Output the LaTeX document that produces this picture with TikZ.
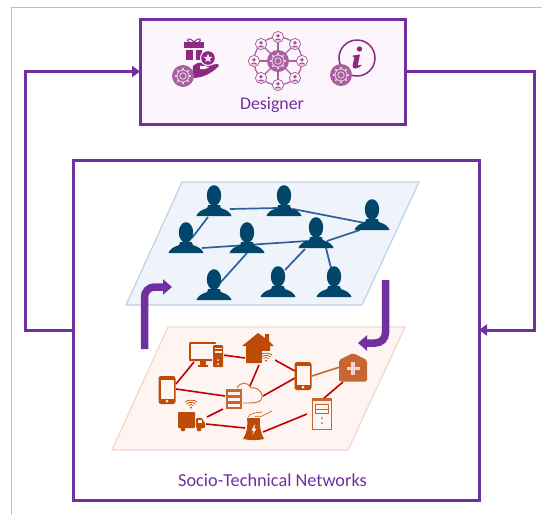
\documentclass[tikz,border=0pt]{standalone}
\usepackage{fontspec}
\setmainfont{Carlito}
\usetikzlibrary{arrows.meta}
\definecolor{pur}{HTML}{7030A0}
\definecolor{desbg}{HTML}{FCF5FC}
\definecolor{plum}{HTML}{8C2A82}
\definecolor{gearbg}{HTML}{A9609F}
\definecolor{gearfg}{HTML}{E9D2E6}
\definecolor{navy}{HTML}{03466B}
\definecolor{bluefill}{HTML}{EFF4FB}
\definecolor{blueline}{HTML}{BDD2E6}
\definecolor{blueedge}{HTML}{2F5F9B}
\definecolor{redfill}{HTML}{FEF5F2}
\definecolor{redline}{HTML}{F7D5CE}
\definecolor{rededge}{HTML}{C00000}
\definecolor{dev}{HTML}{BD4B05}
\definecolor{devlight}{HTML}{C7662E}
\tikzset{
  x=1pt,y=-1pt,
  mainbox/.style={draw=pur,line width=3pt,inner sep=0pt,outer sep=0pt},
  loopline/.style={draw=pur,line width=3pt,line join=miter,-{Triangle[length=8pt,width=11pt]}},
  bigarrow/.style={draw=pur,line width=7.5pt,rounded corners=10pt,-{Triangle[length=9pt,width=15pt]}},
  label/.style={text=pur,inner sep=0pt},
  anchorpt/.style={inner sep=0pt,minimum size=0pt},
  socedge/.style={draw=blueedge,line width=1.7pt},
  techedge/.style={draw=rededge,line width=1.6pt},
  person/.pic={
    \fill[navy] (-17.5,0) .. controls (-16.5,-3.5) and (-13,-6) .. (-8,-7.5)
      .. controls (-6.5,-8) and (-6,-9) .. (-6,-11) -- (6,-11)
      .. controls (6,-9) and (6.5,-8) .. (8,-7.5)
      .. controls (13,-6) and (16.5,-3.5) .. (17.5,0) -- cycle;
    \fill[navy] (0,-20.5) ellipse [x radius=7.2,y radius=10.3];
  },
  wifi/.pic={
    \fill[dev] (0,2.5) circle (1);
    \draw[dev,line width=.7pt] (-2.5,0.5) .. controls (-1,-.8) and (1,-.8) .. (2.5,0.5);
    \draw[dev,line width=.7pt] (-4.5,-1) .. controls (-2,-3.2) and (2,-3.2) .. (4.5,-1);
    \draw[dev,line width=.7pt] (-6,-3) .. controls (-3,-5.5) and (3,-5.5) .. (6,-3);
  },
  phone/.pic={
    \fill[dev,rounded corners=2.5pt] (-8.5,-14) rectangle (8.5,14);
    \fill[redfill] (-6.5,-10) rectangle (6.5,8.5);
    \fill[redfill] (0,11.2) circle (1.5);
  },
  desktop/.pic={
    \fill[dev,rounded corners=1pt] (-17,-12) rectangle (10,7);
    \fill[redfill] (-15,-10.5) rectangle (8,5);
    \fill[dev] (-6,7) rectangle (0,11);
    \fill[dev] (-8,11) rectangle (2,13);
    \fill[redfill] (6,-10) rectangle (18,14);
    \fill[dev,rounded corners=1pt] (7,-9) rectangle (17,13);
    \fill[redfill] (8.5,-6.5) rectangle (15.5,-5);
    \fill[redfill] (8.5,-3) rectangle (15.5,-1.5);
    \fill[redfill] (12,6) circle (1);
    \fill[redfill] (12,10) circle (1);
  },
  house/.pic={
    \fill[dev] (0,-15) -- (7,-10) -- (7,-14) -- (11,-14) -- (11,-7) -- (16,-2) -- (12,-2)
      -- (12,15) -- (-12,15) -- (-12,-2) -- (-16,-2) -- cycle;
    \fill[redfill] (2,3) rectangle (17,16);
    \fill[dev] (2,3) rectangle (4,15);
    \pic at (8,10) {wifi};
  },
  hexa/.pic={
    \fill[devlight,rounded corners=2pt] (0,-15) -- (14,-8) -- (14,13.5) -- (-14,13.5) -- (-14,-8) -- cycle;
    \fill[gearfg!40!redline] (-1.6,-6) rectangle (1.6,7);
    \fill[gearfg!40!redline] (-6.5,-1.1) rectangle (6.5,2.1);
  },
  serverstack/.pic={
    \fill[devlight] (-8,-10) rectangle (8,10);
    \fill[redfill] (-6,-7.5) rectangle (6,-4.5);
    \fill[redfill] (-6,-1.5) rectangle (6,1.5);
    \fill[redfill] (-6,4.5) rectangle (6,7.5);
  },
  cloudline/.pic={
    \draw[devlight,line width=.9pt] (-13,-4) .. controls (-9,-11) and (-2,-10) .. (1,-4)
      .. controls (9,-6) and (15,4) .. (11,8) .. controls (8,11) and (4,11) .. (-7,11);
  },
  truck/.pic={
    \fill[dev,rounded corners=.8pt] (-13,-9) rectangle (4,7);
    \fill[dev,rounded corners=1pt] (5,-3) -- (11,-3) -- (14,2) -- (14,7) -- (5,7) -- cycle;
    \fill[redfill] (7,-1) rectangle (11,2);
    \fill[dev] (-8,8) circle (2.4);
    \fill[dev] (8,8) circle (2.4);
    \pic at (0,-16) {wifi};
  },
  plant/.pic={
    \fill[dev] (-7,-11) .. controls (-6,-3) and (-7,4) .. (-11,10) .. controls (-4,11.5) and (4,11.5) .. (10,10)
      .. controls (7,4) and (5,-3) .. (6,-11) -- cycle;
    \fill[redfill] (1.2,-5) -- (-2.6,1.5) -- (-.3,1.5) -- (-1.8,6) -- (2.6,-.5) -- (.3,-.5) -- cycle;
    \draw[devlight,line width=.7pt] (-5.5,-12) .. controls (-5,-16) and (-1,-14) .. (1,-16) .. controls (3,-18) and (5,-15) .. (8,-17);
    \draw[devlight,line width=.7pt] (1,-12.5) .. controls (4,-11.5) and (7,-12) .. (10,-14) .. controls (13,-16) and (16,-16) .. (18,-18);
  },
  towerbox/.pic={
    \draw[devlight,line width=.9pt] (-9.8,-15) rectangle (9.8,15.5);
    \fill[devlight] (-10,-16.5) rectangle (10,-13.5);
    \draw[devlight,line width=.9pt] (-6.5,-9.5) rectangle (6.5,-.5);
    \draw[devlight,line width=.9pt] (-6.5,-5) -- (6.5,-5);
    \fill[devlight] (0,4) circle (1);
    \fill[devlight] (0,9) circle (1);
  },
  gearicon/.pic={
    \fill[gearbg] (0,0) circle (11);
    \draw[gearfg,line width=.8pt] (0,0) circle (6);
    \draw[gearfg,line width=.8pt] (0,0) circle (3.2);
    \foreach \a in {0,45,...,315} {\draw[gearfg,line width=1.7pt] (\a:6) -- (\a:8);}
  },
  smallperson/.pic={
    \draw[gearbg,fill=desbg,line width=.8pt] (0,0) circle (5.6);
    \fill[plum!80] (0,-1.2) circle (1.9);
    \fill[plum!80] (-3.2,3.4) .. controls (-3,1) and (3,1) .. (3.2,3.4) -- cycle;
  }
}
\begin{document}
\begin{tikzpicture}
\useasboundingbox (0,0) rectangle (542,515);
\fill[white] (0,0) rectangle (542,515);
\draw[black!25,line width=.8pt] (11,515) -- (11,7) -- (542,7);

% --- main boxes
\node[mainbox,fill=desbg,minimum width=265pt,minimum height=105pt] (designer) at (272.5,71.5) {};
\node[mainbox,fill=white,minimum width=406pt,minimum height=340pt] (socio) at (276,330) {};
\coordinate (lb) at (25,330);
\coordinate (lt) at (25,71.5);
\coordinate (rt) at (534,71.5);
\coordinate (rb) at (534,330);
\draw[loopline] (socio.west) -- (lb) -- (lt) -- (designer.west);
\draw[loopline] (designer.east) -- (rt) -- (rb) -- (socio.east);
\node[label,font=\fontsize{17.8}{20}\selectfont] (designerlabel) at (272,105) {Designer};
\node[label,font=\fontsize{18.3}{20}\selectfont] (sociolabel) at (272.5,480) {Socio-Technical Networks};

% --- social plane
\fill[bluefill,draw=blueline,line width=1.2pt] (182,182) -- (419,182) -- (362,305) -- (126,305) -- cycle;
\foreach \n/\px/\py in {p1/214/216,p2/284/216,p3/372/230,p4/186/253,p5/247/253,p6/316/248,p7/214/300,p8/278/297,p9/334/297}
  \node[anchorpt] (\n) at (\px,\py) {};
\draw[socedge] ([shift={(16,-7)}]p1.center) -- ([shift={(-7,-8)}]p2.center);
\draw[socedge] ([shift={(-6,1)}]p1.center) -- ([shift={(6,-15)}]p4.center);
\draw[socedge] ([shift={(16,-5)}]p4.center) -- ([shift={(-9,-7)}]p6.center);
\draw[socedge] ([shift={(11,-7)}]p6.center) -- ([shift={(-12,0)}]p3.center);
\draw[socedge] ([shift={(9,-7)}]p2.center) -- ([shift={(-7,-7)}]p3.center);
\draw[socedge] (p5.center) -- ([shift={(6,-17)}]p7.center);
\draw[socedge] ([shift={(-11,1)}]p6.center) -- ([shift={(7,-27)}]p8.center);
\draw[socedge] ([shift={(10,0)}]p6.center) -- ([shift={(-3,-29)}]p9.center);
\foreach \n in {p1,p2,p3,p4,p5,p6,p7,p8,p9} \pic at (\n) {person};

% --- technical plane
\fill[redfill,draw=redline,line width=1.2pt] (168,327) -- (405,327) -- (348,450) -- (112,450) -- cycle;
\foreach \n/\px/\py in {desk/206/354,house/258/348,ph1/167/390,ph2/303/376,hex/353/368,srv/234/399,cloud/250/392,truck/191/421,plant/254/429,tower/322/414}
  \node[anchorpt] (\n) at (\px,\py) {};
\draw[techedge] ([shift={(17,1)}]desk.center) -- ([shift={(-13,10)}]house.center);
\draw[techedge] ([shift={(-12,8)}]desk.center) -- ([shift={(9,-6)}]ph1.center);
\draw[techedge] ([shift={(9,-1)}]ph1.center) -- ([shift={(-9,-3)}]srv.center);
\draw[techedge] ([shift={(15,11)}]house.center) -- ([shift={(-8,-5)}]ph2.center);
\draw[techedge] ([shift={(1,17)}]house.center) -- ([shift={(0,-6)}]cloud.center);
\draw[techedge] ([shift={(-8,2)}]ph2.center) -- ([shift={(13,4)}]cloud.center);
\draw[techedge,draw=devlight] ([shift={(9,0)}]ph2.center) -- ([shift={(-13,-1)}]hex.center);
\draw[techedge] ([shift={(-10,14)}]hex.center) -- ([shift={(1,-15)}]tower.center);
\draw[techedge] ([shift={(-11,10)}]srv.center) -- ([shift={(16,-4)}]truck.center);
\draw[techedge] ([shift={(15,3)}]truck.center) -- ([shift={(-9,-1)}]plant.center);
\draw[techedge] ([shift={(9,3)}]plant.center) -- ([shift={(-15,0)}]tower.center);
\pic at (desk) {desktop};
\pic at (house) {house};
\pic at (ph1) {phone};
\pic at (ph2) {phone};
\pic at (hex) {hexa};
\pic at (cloud) {cloudline};
\pic at (srv) {serverstack};
\pic at (truck) {truck};
\pic at (plant) {plant};
\pic at (tower) {towerbox};

% --- bent block arrows
\coordinate (ua) at (144.5,349);
\coordinate (ub) at (144.5,287);
\coordinate (uc) at (172,287);
\draw[bigarrow] (ua) -- (ub) -- (uc);
\coordinate (da) at (385.5,280);
\coordinate (db) at (385.5,343);
\coordinate (dc) at (358,343);
\draw[bigarrow] (da) -- (db) -- (dc);

% --- designer icons: gift in hand
\fill[plum] (184,42) rectangle (204,48);
\fill[plum] (186,49.5) rectangle (192.5,60);
\fill[plum] (195.5,49.5) rectangle (202,60);
\draw[plum,line width=1pt] (194,42) .. controls (188,36) and (186,40) .. (189,42);
\draw[plum,line width=1pt] (194,42) .. controls (200,36) and (202,40) .. (199,42);
\fill[plum] (193,66) .. controls (198,61) and (204,62) .. (208,65) -- (218,64) .. controls (219,65) and (219,66) .. (218,67)
  .. controls (212,72) and (205,78) .. (192,78) -- cycle;
\fill[desbg] (200,66) .. controls (204,65.5) and (207,66) .. (209,67.5) .. controls (206,69) and (203,69.5) .. (200,69) -- cycle;
\fill[desbg] (208,58) circle (8);
\fill[plum] (208,58) circle (6.8);
\fill[desbg] (208,53.8) -- (209.2,56.8) -- (212.2,57) -- (209.9,59) -- (210.6,62) -- (208,60.4) -- (205.4,62) -- (206.1,59) -- (203.8,57) -- (206.8,56.8) -- cycle;
\pic at (183,76) {gearicon};

% --- designer icons: network
\draw[gearbg,line width=1.2pt] (278,61) circle (24);
\foreach \a in {0,45,...,315} \draw[gearbg,line width=1.3pt] (278,61) -- ++(\a:19);
\foreach \a in {0,45,...,315} \pic at ([shift={(\a:24)}]278,61) {smallperson};
\pic at (278,61) {gearicon};

% --- designer icons: info
\draw[plum,line width=1.5pt] (357,58) circle (18);
\fill[plum] (359.5,49) circle (2.7);
\fill[plum] (353,55.5) -- (360,54.5) -- (357.8,65) .. controls (357.6,66.2) and (358.6,66) .. (361,64.5) -- (361.5,65.5)
  .. controls (358,69) and (352,70) .. (352.6,65.5) -- (354.4,57) -- (352.8,56.8) -- cycle;
\pic at (341,75) {gearicon};
\end{tikzpicture}
\end{document}
